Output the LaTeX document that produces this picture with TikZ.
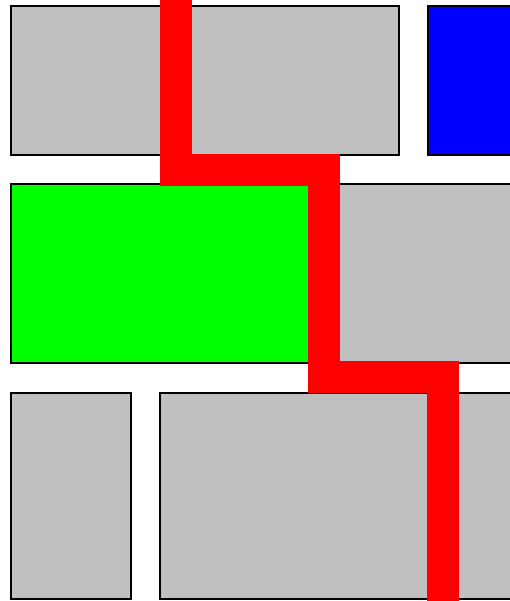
\documentclass[tikz,border=0pt]{standalone}
\begin{document}
\begin{tikzpicture}[x=1pt,y=-1pt,
  cell/.style={draw=black,line width=2pt,fill=gray75},
  route/.style={draw=pathred,line width=32pt,line join=miter,line cap=butt}]
\definecolor{gray75}{RGB}{192,192,192}
\definecolor{pathred}{RGB}{255,0,0}
\useasboundingbox (0,0) rectangle (510,601);
\clip (0,0) rectangle (510,601);
% row 1
\draw[cell] (11,6) rectangle (399,155);
\draw[cell,fill={rgb,255:red,0;green,0;blue,255}] (428,6) rectangle (530,155);
% row 2
\draw[cell,fill={rgb,255:red,0;green,255;blue,0}] (11,184) rectangle (320,363);
\draw[cell] (330,184) rectangle (530,363);
% row 3
\draw[cell] (11,393) rectangle (131,599);
\draw[cell] (160,393) rectangle (438,599);
\draw[cell] (448,393) rectangle (530,599);
% route
\coordinate (r0) at (176,-10);
\coordinate (r1) at (176,170);
\coordinate (r2) at (324,170);
\coordinate (r3) at (324,377);
\coordinate (r4) at (443,377);
\coordinate (r5) at (443,611);
\draw[route] (r0) -- (r1) -- (r2) -- (r3) -- (r4) -- (r5);
\end{tikzpicture}
\end{document}
